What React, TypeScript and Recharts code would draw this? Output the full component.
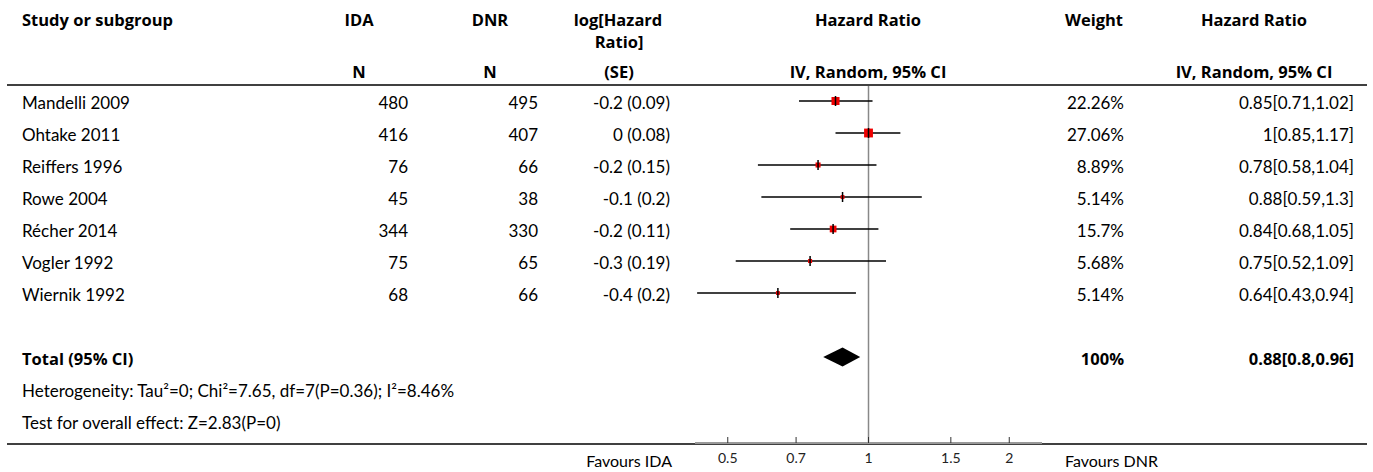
import React from 'react';
import { ScatterChart, Scatter, XAxis, YAxis, ReferenceLine, ReferenceArea, Customized } from 'recharts';

// ---------- data ----------
const studies = ['Mandelli 2009', 'Ohtake 2011', 'Reiffers 1996', 'Rowe 2004', 'Récher 2014', 'Vogler 1992', 'Wiernik 1992'];
const nIDA = [480, 416, 76, 45, 344, 75, 68];
const nDNR = [495, 407, 66, 38, 330, 65, 66];
const logHR = [-0.2, 0, -0.2, -0.1, -0.2, -0.3, -0.4];
const seLogHR = [0.09, 0.08, 0.15, 0.2, 0.11, 0.19, 0.2];
const weights = [22.26, 27.06, 8.89, 5.14, 15.7, 5.68, 5.14];
const hr = [0.85, 1, 0.78, 0.88, 0.84, 0.75, 0.64];
const ciLow = [0.71, 0.85, 0.58, 0.59, 0.68, 0.52, 0.43];
const ciHigh = [1.02, 1.17, 1.04, 1.3, 1.05, 1.09, 0.94];

const totalLabel = 'Total (95% CI)';
const totalWeight = 100;
const totalHR = 0.88;
const totalLow = 0.8;
const totalHigh = 0.96;
const heterogeneityText = 'Heterogeneity: Tau²=0; Chi²=7.65, df=7(P=0.36); I²=8.46%';
const overallText = 'Test for overall effect: Z=2.83(P=0)';

const xTicks = [0.5, 0.7, 1, 1.5, 2];
const xDomain = [0.4255, 2.35];
const favoursLeft = 'Favours IDA';
const favoursRight = 'Favours DNR';

// row positions (index on the vertical axis)
const TOTAL_ROW = 8;
const HET_ROW = 9;
const TEST_ROW = 10;
const yDomain = [-0.46875, 10.6875];
const yTicks = [0, 1, 2, 3, 4, 5, 6, TOTAL_ROW, HET_ROW, TEST_ROW];

const points = studies.map((s, i) => ({ hr: hr[i], row: i, w: weights[i] }));

// ---------- layout ----------
const W = 1373;
const H = 472;
const PLOT_LEFT = 695;
const PLOT_RIGHT = 1042;
const PLOT_TOP = 86;
const PLOT_BOTTOM = 443;
const FONT = 'Lato, "Noto Sans", sans-serif';
const FONTB = '"Open Sans", "Noto Sans", sans-serif';
const FS = 17;
const FSB = 16.5;
const TXT = '#000';

const COL = {
  name: 22,
  ida: 408,
  dnr: 538,
  loghr: 670,
  weight: 1124,
  ci: 1354,
};

const RowTick = (props: any) => {
  const { y, payload } = props;
  const r = payload.value;
  const by = y + 7.5;
  const common = { fontFamily: FONT, fontSize: FS, fill: TXT };
  const bold = { fontFamily: FONTB, fontSize: FSB, fill: TXT, fontWeight: 700 };
  if (r < studies.length) {
    return (
      <g>
        <text x={COL.name} y={by} {...common}>{studies[r]}</text>
        <text x={COL.ida} y={by} textAnchor="end" {...common}>{nIDA[r]}</text>
        <text x={COL.dnr} y={by} textAnchor="end" {...common}>{nDNR[r]}</text>
        <text x={COL.loghr} y={by} textAnchor="end" {...common}>{`${logHR[r]} (${seLogHR[r]})`}</text>
        <text x={COL.weight} y={by} textAnchor="end" {...common}>{`${weights[r]}%`}</text>
        <text x={COL.ci} y={by} textAnchor="end" {...common}>{`${hr[r]}[${ciLow[r]},${ciHigh[r]}]`}</text>
      </g>
    );
  }
  if (r === TOTAL_ROW) {
    return (
      <g>
        <text x={COL.name} y={by} {...bold}>{totalLabel}</text>
        <text x={COL.weight} y={by} textAnchor="end" {...bold}>{`${totalWeight}%`}</text>
        <text x={COL.ci} y={by} textAnchor="end" {...bold}>{`${totalHR}[${totalLow},${totalHigh}]`}</text>
      </g>
    );
  }
  if (r === HET_ROW) {
    return <text x={COL.name} y={by} {...common}>{heterogeneityText}</text>;
  }
  if (r === TEST_ROW) {
    return <text x={COL.name} y={by} {...common}>{overallText}</text>;
  }
  return null;
};

const XTick = (props: any) => {
  const { x, y, payload } = props;
  return (
    <g>
      <line x1={x} x2={x} y1={y} y2={y - 6} stroke="#333" strokeWidth={1} />
      <text x={x} y={y + 19.5} textAnchor="middle" fontFamily={FONT} fontSize={14} fill="#222">{payload.value}</text>
    </g>
  );
};

const StudyMarker = (props: any) => {
  const { cx, cy, payload } = props;
  const s = 1.7 * Math.sqrt(payload.w);
  return (
    <g>
      <rect x={cx - s / 2} y={cy - s / 2} width={s} height={s} fill="#ee0000" />
      <line x1={cx} x2={cx} y1={cy - 5} y2={cy + 5} stroke="#000" strokeWidth={1.5} />
    </g>
  );
};

const Diamond = (props: any) => {
  const { x, y, width, height } = props;
  const f = (Math.log(totalHR) - Math.log(totalLow)) / (Math.log(totalHigh) - Math.log(totalLow));
  const cx = x + f * width;
  const cy = y + height / 2;
  return (
    <polygon
      points={`${x},${cy} ${cx},${y} ${x + width},${cy} ${cx},${y + height}`}
      fill="#000"
    />
  );
};

const Decorations = () => {
  const b = { fontFamily: FONTB, fontSize: FSB, fill: TXT, fontWeight: 700 };
  return (
    <g>
      <text x={COL.name} y={25.5} {...b}>Study or subgroup</text>
      <text x={359} y={25.5} textAnchor="middle" {...b}>IDA</text>
      <text x={359} y={77.5} textAnchor="middle" {...b}>N</text>
      <text x={490} y={25.5} textAnchor="middle" {...b}>DNR</text>
      <text x={490} y={77.5} textAnchor="middle" {...b}>N</text>
      <text x={618} y={25.5} textAnchor="middle" {...b}>log[Hazard</text>
      <text x={619} y={47.5} textAnchor="middle" {...b}>Ratio]</text>
      <text x={619} y={77.5} textAnchor="middle" {...b}>(SE)</text>
      <text x={868} y={25.5} textAnchor="middle" {...b}>Hazard Ratio</text>
      <text x={868} y={77.5} textAnchor="middle" {...b}>IV, Random, 95% CI</text>
      <text x={1094} y={25.5} textAnchor="middle" {...b}>Weight</text>
      <text x={1254} y={25.5} textAnchor="middle" {...b}>Hazard Ratio</text>
      <text x={1254} y={77.5} textAnchor="middle" {...b}>IV, Random, 95% CI</text>
      <line x1={7} x2={1367} y1={85} y2={85} stroke="#000" strokeWidth={1.5} />
      <line x1={7} x2={1367} y1={444} y2={444} stroke="#000" strokeWidth={1.5} />
      <text x={672} y={467} textAnchor="end" fontFamily={FONT} fontSize={16} fill={TXT}>{favoursLeft}</text>
      <text x={1065} y={467} fontFamily={FONT} fontSize={16} fill={TXT}>{favoursRight}</text>
    </g>
  );
};

export default function App() {
  return (
    <div style={{ position: 'absolute', left: 0, top: 0, width: W, height: H, background: '#fff' }}>
      <ScatterChart
        width={W}
        height={H}
        margin={{ top: PLOT_TOP, right: W - PLOT_RIGHT, bottom: 0, left: 0 }}
        style={{ fontFamily: FONT }}
      >
        <Customized component={Decorations} />
        <XAxis
          type="number"
          dataKey="hr"
          scale="log"
          domain={xDomain}
          allowDataOverflow
          ticks={xTicks}
          interval={0}
          height={H - PLOT_BOTTOM}
          tickSize={0}
          tickMargin={0}
          tickLine={false}
          axisLine={{ stroke: '#999', strokeWidth: 2 }}
          tick={<XTick />}
        />
        <YAxis
          type="number"
          dataKey="row"
          domain={yDomain}
          reversed
          allowDataOverflow
          ticks={yTicks}
          interval={0}
          width={PLOT_LEFT}
          tickSize={0}
          tickMargin={0}
          tickLine={false}
          axisLine={false}
          tick={<RowTick />}
        />
        <ReferenceLine x={1} stroke="#888" strokeWidth={1.5} />
        {studies.map((s, i) => (
          <ReferenceLine
            key={s}
            segment={[{ x: ciLow[i], y: i }, { x: ciHigh[i], y: i }]}
            stroke="#000"
            strokeWidth={1.5}
          />
        ))}
        <ReferenceArea
          x1={totalLow}
          x2={totalHigh}
          y1={TOTAL_ROW - 0.3}
          y2={TOTAL_ROW + 0.3}
          shape={<Diamond />}
          fillOpacity={1}
        />
        <Scatter data={points} shape={<StudyMarker />} isAnimationActive={false} />
      </ScatterChart>
    </div>
  );
}
